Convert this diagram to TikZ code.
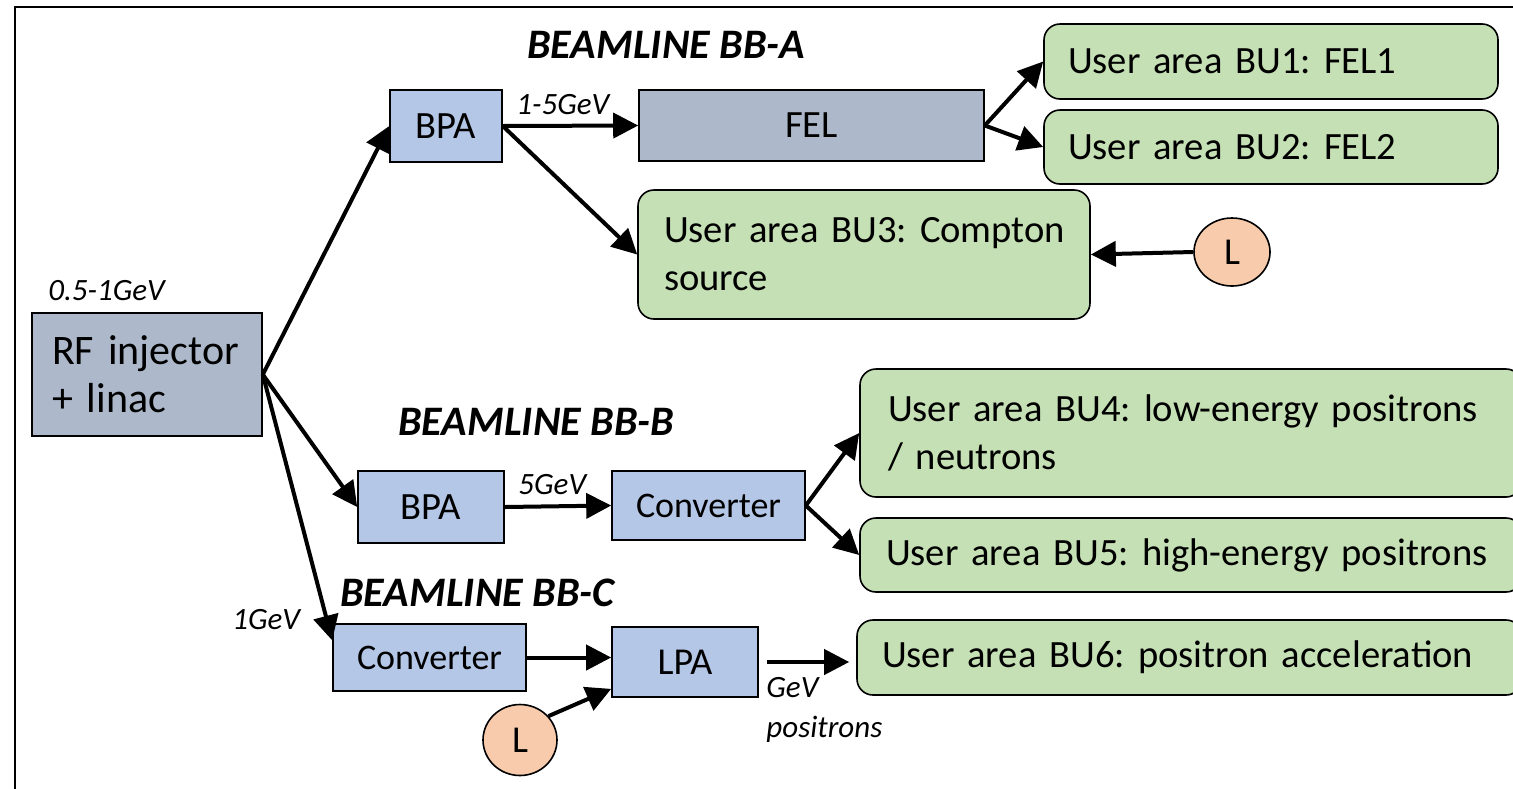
\documentclass[tikz,border=0pt]{standalone}
\usepackage{fontspec}
\setmainfont{Carlito}
\usetikzlibrary{arrows.meta,shapes.geometric}

\definecolor{slate}{RGB}{173,185,202}
\definecolor{paleblue}{RGB}{180,199,231}
\definecolor{palegreen}{RGB}{197,224,180}
\definecolor{peach}{RGB}{248,203,173}

\tikzset{
  unit/.style={draw, line width=.8pt, inner sep=0pt, font=\fontsize{19.3}{24}\selectfont,
    execute at begin node=\frenchspacing},
  machine/.style={unit, fill=slate},
  stage/.style={unit, fill=paleblue},
  userarea/.style={unit, fill=palegreen, rounded corners=8pt, align=left},
  laser/.style={draw, line width=.8pt, ellipse, fill=peach, inner sep=0pt,
    font=\fontsize{19}{24}\selectfont},
  beamline/.style={inner sep=0pt, anchor=west, font=\fontsize{21}{24}\selectfont\bfseries\itshape},
  energy/.style={inner sep=0pt, anchor=west, font=\fontsize{15.5}{20}\selectfont\itshape},
  beam/.style={line width=2pt, -{Triangle[length=12.5pt,width=12.5pt]}}
}

\begin{document}
\begin{tikzpicture}[x=.5pt, y=-.5pt]
\useasboundingbox (0,0) rectangle (1513,788);
\clip (0,0) rectangle (1513,788);
\draw[line width=1pt] (15,800) |- (1530,7);

% source
\node[machine, minimum width=115pt, minimum height=61.5pt, text width=95pt, align=left,
  font=\fontsize{21}{24}\selectfont] (rf) at (147,374.5) {RF injector\\+ linac};
\node[energy] (e0) at (48,291) {0.5-1GeV};

% beamline A
\node[beamline] (blA) at (527,45) {BEAMLINE BB-A};
\node[stage, minimum width=56pt, minimum height=36pt] (bpaA) at (446,126) {BPA};
\node[machine, minimum width=172.5pt, minimum height=35.5pt] (fel) at (811.5,125.5) {FEL};
\node[energy] (eA) at (516,105) {1-5GeV};
\node[userarea, minimum width=227pt, minimum height=37.5pt, text width=203pt] (bu1) at (1271,61.5) {\mbox{User area BU1: FEL1}};
\node[userarea, minimum width=227pt, minimum height=37pt, text width=203pt] (bu2) at (1271,147) {\mbox{User area BU2: FEL2}};
\node[userarea, minimum width=226pt, minimum height=64.5pt, text width=200pt] (bu3) at (864,254.5) {\mbox{User area BU3: Compton}\\source};
\node[laser, minimum width=38pt, minimum height=34pt] (lasA) at (1232,252) {L};

% beamline B
\node[beamline] (blB) at (398,422) {BEAMLINE BB-B};
\node[stage, minimum width=73pt, minimum height=36pt] (bpaB) at (431,507) {BPA};
\node[energy] (eB) at (518,485) {5GeV};
\node[stage, minimum width=96.5pt, minimum height=34.5pt, font=\fontsize{18}{24}\selectfont] (convB) at (708.5,505.5) {Converter};
\node[userarea, minimum width=331pt, minimum height=64pt, text width=303pt] (bu4) at (1191,433) {\mbox{User area BU4: low-energy positrons}\\/ neutrons};
\node[userarea, minimum width=331pt, minimum height=37pt, text width=305pt] (bu5) at (1191,555) {\mbox{User area BU5: high-energy positrons}};

% beamline C
\node[beamline] (blC) at (340,593) {BEAMLINE BB-C};
\node[energy] (eC) at (232,620) {1GeV};
\node[stage, minimum width=96.5pt, minimum height=33.5pt, font=\fontsize{18}{24}\selectfont] (convC) at (429.5,657.5) {Converter};
\node[stage, minimum width=73pt, minimum height=35pt, font=\fontsize{19}{24}\selectfont] (lpa) at (685,662) {LPA};
\node[laser, minimum width=37pt, minimum height=35.5pt] (lasC) at (520,740) {L};
\node[energy, align=left] (eOut) at (766,710) {GeV\\positrons};
\node[userarea, minimum width=332.5pt, minimum height=37.5pt, text width=307.5pt] (bu6) at (1189.5,657.5) {\mbox{User area BU6: positron acceleration}};

% beams
\draw[beam] (rf.east) -- (bpaA.west);
\draw[beam] (rf.east) -- (bpaB.west);
\draw[beam] (rf.east) -- (convC.170);
\draw[beam] (bpaA.east) -- (fel.west);
\draw[beam] (bpaA.east) -- (bu3.west);
\draw[beam] (fel.east) -- (bu1.west);
\draw[beam] (fel.east) -- (bu2.west);
\draw[beam] (lasA.west) -- (bu3.east);
\draw[beam] (bpaB.east) -- (convB.west);
\draw[beam] (convB.east) -- (bu4.west);
\draw[beam] (convB.east) -- (bu5.west);
\draw[beam] (convC.east) -- (convC.east -| lpa.west);
\draw[beam] (lasC.40) -- (lpa.200);
\draw[beam, shorten <=4pt, shorten >=3.5pt] (lpa.east) -- (lpa.east -| bu6.west);
\end{tikzpicture}
\end{document}
